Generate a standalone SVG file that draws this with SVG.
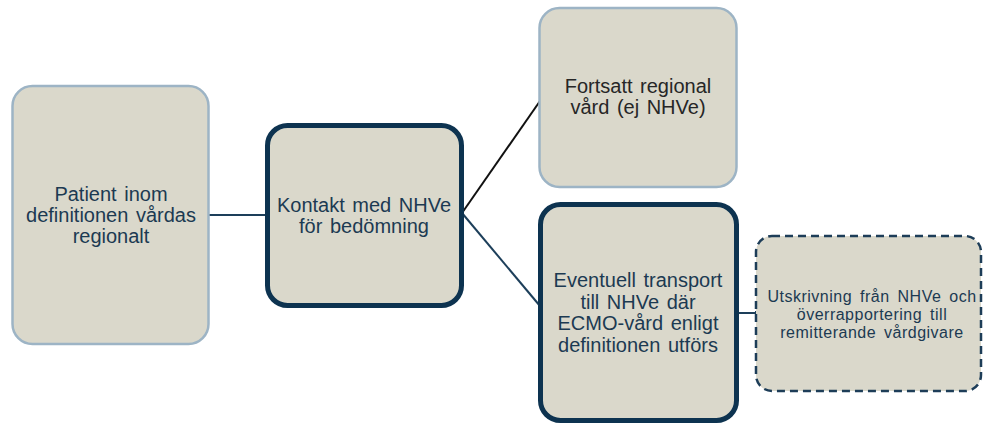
<svg xmlns="http://www.w3.org/2000/svg" width="984" height="426" viewBox="0 0 984 426">
<style>
.box{fill:#dad8cb}
.light{stroke:#9db4c5;stroke-width:2.5}
.dark{stroke:#0d3350;stroke-width:5}
.dash{stroke:#1d3d58;stroke-width:2.5;stroke-dasharray:8 5}
text{font-family:"Liberation Sans",Arial,sans-serif;font-size:20px;fill:#1c3a52;text-anchor:middle;word-spacing:2px}
.blk{fill:#262626}
.sm{font-size:16px;letter-spacing:0.5px;word-spacing:3px}
.ln{fill:none;stroke:#1d3f5a;stroke-width:2}
</style>
<rect width="984" height="426" fill="#ffffff"/>
<g id="connectors">
<line class="ln" x1="209" y1="215" x2="266" y2="215"/>
<line class="ln" x1="462" y1="213" x2="540" y2="101" style="stroke:#111"/>
<line class="ln" x1="462" y1="213" x2="540" y2="306"/>
<polyline class="ln" points="739,313 756,313 756,311"/>
</g>
<g id="node1">
<rect class="box light" x="12.5" y="86" width="196" height="258" rx="20"/>
<text x="111" y="201">Patient inom</text>
<text x="111" y="222">definitionen vårdas</text>
<text x="111" y="243">regionalt</text>
</g>
<g id="node2">
<rect class="box dark" x="267.5" y="125.5" width="194" height="180" rx="20"/>
<text x="364" y="212">Kontakt med NHVe</text>
<text x="364" y="233">för bedömning</text>
</g>
<g id="node3">
<rect class="box light" x="539.5" y="8" width="197" height="179" rx="20"/>
<text class="blk" x="638" y="93">Fortsatt regional</text>
<text class="blk" x="638" y="114">vård (ej NHVe)</text>
</g>
<g id="node4">
<rect class="box dark" x="540.5" y="204.5" width="196" height="216" rx="20"/>
<text x="638" y="287">Eventuell transport</text>
<text x="638" y="309">till NHVe där</text>
<text x="638" y="330">ECMO-vård enligt</text>
<text x="638" y="352">definitionen utförs</text>
</g>
<g id="node5">
<rect class="box dash" x="756" y="236" width="225" height="155" rx="16"/>
<text class="sm" x="872" y="302">Utskrivning från NHVe och</text>
<text class="sm" x="872" y="320">överrapportering till</text>
<text class="sm" x="872" y="338">remitterande vårdgivare</text>
</g>
</svg>
